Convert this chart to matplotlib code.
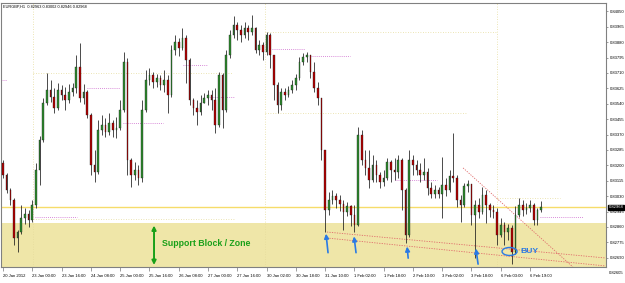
import numpy as np
import matplotlib.pyplot as plt
import matplotlib.transforms as mtransforms
from matplotlib.collections import LineCollection
from matplotlib.patches import Ellipse

plt.rcParams['font.family'] = ['Liberation Sans', 'DejaVu Sans']

# EURGBP H1, prices stored as 1e-5 above 0.82000
first_open = 1213
close = [1147, 1064, 1009, 799, 832, 910, 932, 899, 981, 1175,
         1340, 1544, 1616, 1578, 1517, 1616, 1589, 1561, 1605, 1627,
         1743, 1572, 1605, 1478, 1202, 1164, 1395, 1423, 1384, 1434,
         1395, 1406, 1506, 1771, 1230, 1147, 1175, 1130, 1506, 1671,
         1699, 1660, 1682, 1644, 1671, 1589, 1837, 1881, 1848, 1903,
         1782, 1561, 1517, 1495, 1544, 1572, 1589, 1561, 1423, 1699,
         1506, 1809, 1920, 1975, 1947, 1920, 1958, 1936, 1958, 1837,
         1865, 1826, 1920, 1809, 1644, 1533, 1605, 1589, 1616, 1644,
         1682, 1771, 1798, 1809, 1716, 1627, 1572, 1285, 954, 1009,
         1031, 1009, 987, 943, 976, 926, 871, 1368, 1230, 1186,
         1119, 1202, 1147, 1108, 1130, 1219, 1175, 1164, 1230, 1064,
         816, 1230, 1202, 1175, 1147, 1164, 1075, 1042, 1064, 1042,
         1092, 1064, 1141, 1130, 1009, 981, 1086, 1097, 926, 981,
         943, 1037, 981, 954, 943, 816, 871, 832, 854, 722,
         926, 981, 954, 965, 981, 899, 954, 968]
high = [1230, 1158, 1075, 1020, 843, 981, 965, 954, 1009, 1213,
        1362, 1572, 1710, 1671, 1627, 1655, 1644, 1633, 1649, 1655,
        1809, 1876, 1649, 1616, 1489, 1285, 1451, 1478, 1462, 1489,
        1451, 1467, 1561, 1826, 1793, 1241, 1219, 1202, 1561, 1727,
        1738, 1716, 1704, 1699, 1727, 1699, 1865, 1920, 1903, 1958,
        1920, 1793, 1572, 1561, 1589, 1600, 1616, 1616, 1627, 1716,
        1710, 1837, 1947, 2025, 1992, 1975, 1992, 1975, 2030, 1964,
        1892, 1881, 1936, 1931, 1809, 1660, 1627, 1627, 1638, 1671,
        1704, 1798, 1820, 1826, 1809, 1771, 1660, 1561, 1285, 1053,
        1064, 1048, 1037, 1009, 998, 981, 981, 1412, 1395, 1285,
        1285, 1257, 1230, 1164, 1175, 1241, 1230, 1241, 1257, 1241,
        1075, 1285, 1257, 1230, 1213, 1241, 1186, 1108, 1092, 1081,
        1246, 1130, 1175, 1379, 1147, 1037, 1103, 1119, 1097, 1009,
        1020, 1081, 1064, 992, 981, 965, 910, 888, 876, 871,
        976, 1020, 1009, 992, 1009, 992, 965, 1003]
low = [1130, 1048, 981, 761, 722, 821, 876, 860, 888, 965,
       1092, 1329, 1533, 1550, 1489, 1506, 1561, 1506, 1544, 1583,
       1600, 1550, 1539, 1462, 1147, 1108, 1152, 1368, 1357, 1368,
       1357, 1351, 1395, 1495, 1147, 1081, 1119, 1092, 1108, 1495,
       1644, 1627, 1633, 1616, 1605, 1489, 1578, 1809, 1804, 1837,
       1655, 1533, 1478, 1423, 1478, 1544, 1533, 1506, 1379, 1412,
       1406, 1495, 1793, 1903, 1892, 1881, 1903, 1892, 1920, 1820,
       1809, 1782, 1809, 1738, 1561, 1489, 1506, 1561, 1578, 1600,
       1616, 1671, 1754, 1771, 1682, 1605, 1533, 1230, 832, 926,
       987, 965, 948, 843, 921, 865, 832, 865, 1202, 1147,
       1075, 1108, 1108, 1075, 1086, 1119, 1108, 1119, 1130, 954,
       772, 805, 1147, 1147, 1108, 1119, 1037, 1020, 1020, 1020,
       910, 1031, 1053, 1108, 970, 888, 970, 1053, 871, 689,
       910, 932, 882, 915, 910, 761, 805, 761, 788, 656,
       711, 915, 921, 932, 943, 871, 871, 943]

time_labels = ['20 Jan 2012', '23 Jan 00:00', '23 Jan 16:00', '24 Jan 08:00',
               '25 Jan 00:00', '25 Jan 16:00', '26 Jan 08:00', '27 Jan 00:00',
               '27 Jan 16:00', '30 Jan 02:00', '30 Jan 18:00', '31 Jan 10:00',
               '1 Feb 02:00', '1 Feb 18:00', '2 Feb 10:00', '3 Feb 02:00',
               '3 Feb 18:00', '6 Feb 03:00', '6 Feb 19:00']
price_labels = ['0.84050', '0.83965', '0.83880', '0.83795', '0.83710', '0.83625',
                '0.83540', '0.83455', '0.83370', '0.83285', '0.83200', '0.83115',
                '0.83030', '0.82945', '0.82860', '0.82775', '0.82690', '0.82605']
bid = 0.82968
zone_top = 0.82882

# (price, start bar, end bar)
week_levels = [(0.83710, 8.2, 62.9), (0.82904, 8.2, 63.4), (0.83936, 71.6, 135),
               (0.83489, 71.6, 126.8), (0.83020, 135, 152.2)]
day_levels = [(0.83671, -0.5, 1.1), (0.82915, 8.7, 20.2), (0.83627, 23, 32),
              (0.83434, 32.8, 43.7), (0.83754, 49.2, 55.7), (0.83578, 56.6, 63.4),
              (0.83843, 73.5, 82.5), (0.83804, 83.9, 94.8), (0.82970, 96.2, 106.3),
              (0.83119, 107, 118.6), (0.82915, 146.7, 158.5)]
week_starts = [8.2, 71.6, 135]
trend_lines = [((88.5, 0.82832), (164.5, 0.82689)),
               ((88.5, 0.82799), (164.5, 0.82645)),
               ((125.7, 0.83186), (155.7, 0.82639))]
buy_arrows = [((88.8, 0.82718), (88.25, 0.82823)),
              ((96.45, 0.82718), (95.9, 0.82808)),
              ((110.7, 0.82688), (110.4, 0.82752)),
              ((129.8, 0.82655), (129.2, 0.82741))]

c = 0.82 + np.array(close) / 1e5
h = 0.82 + np.array(high) / 1e5
l = 0.82 + np.array(low) / 1e5
o = np.r_[0.82 + first_open / 1e5, c[:-1]]
x = np.arange(len(c))

fig = plt.figure(figsize=(6.25, 2.83), dpi=100)
ax = fig.add_axes([1 / 625, 16 / 283, 605 / 625, 264.5 / 283])
ax.set_xlim(-0.55, 164.75)
ax.set_ylim(0.82639, 0.84099)

ax.axhspan(0.82, zone_top, color='#efe6a8', lw=0, zorder=0)
for wx in week_starts:
    ax.axvline(wx, color='#e6dc9c', lw=0.6, ls=(0, (1, 2)), zorder=1)
for p, a, b in week_levels:
    ax.plot([a, b], [p, p], color='#e6dc9c', lw=0.6, ls=(0, (1, 2)), zorder=1)
for p, a, b in day_levels:
    ax.plot([a, b], [p, p], color='#cc66cc', lw=0.6, ls=(0, (1, 1.5)), zorder=1)
ax.axhline(bid, color='#f6dc6a', lw=1.0, zorder=1)
for (x0, y0), (x1, y1) in trend_lines:
    ax.plot([x0, x1], [y0, y1], color='#e06a6a', lw=0.6, ls=(0, (1.5, 1.5)), zorder=2)

# candles
wicks = [[(xi, li), (xi, hi)] for xi, li, hi in zip(x, l, h)]
ax.add_collection(LineCollection(wicks, colors='#1a1a1a', linewidths=0.55, zorder=3))
up = c >= o
body = np.where(np.abs(c - o) < 2e-5, 2e-5, c - o)
ax.bar(x, body, bottom=o, width=0.45, color=np.where(up, '#2e8b2e', '#b30000'),
       edgecolor='#1a1a1a', linewidth=0.25, zorder=4)

# annotations
ax.annotate('', xy=(41.26, 0.82868), xytext=(41.26, 0.82650),
            arrowprops=dict(arrowstyle='<|-|>', color='#19a019', lw=1.4,
                            mutation_scale=6, shrinkA=0, shrinkB=0), zorder=5)
ax.text(43.4, 0.82766, 'Support Block / Zone', color='#19a019', fontsize=6.3,
        fontweight='bold', va='center', ha='left', zorder=5)
for tail, tip in buy_arrows:
    ax.annotate('', xy=tip, xytext=tail,
                arrowprops=dict(arrowstyle='-|>', color='#2a7ae4', lw=1.2,
                                mutation_scale=6.5, shrinkA=0, shrinkB=0), zorder=5)
ax.add_patch(Ellipse((138.4, 0.827247), 4.1, 0.00044, fill=False,
                     edgecolor='#2a7ae4', lw=1.0, zorder=5))
ax.text(141.3, 0.82722, 'BUY', color='#2a7ae4', fontsize=6.1, fontweight='bold',
        va='center', ha='left', zorder=5)
ax.text(0.004, 0.992, 'EURGBP,H1  0.82963 0.83002 0.82946 0.82968',
        transform=ax.transAxes, fontsize=2.8, va='top', ha='left')

# axes
for s in ax.spines.values():
    s.set_color('#808080')
    s.set_linewidth(0.8)
ax.set_xticks(np.arange(len(time_labels)) * 8)
ax.set_xticklabels(time_labels, ha='left', fontsize=3)
ax.tick_params(axis='x', length=3, width=0.4, color='#555555', pad=2.2)

inside = [t for t in price_labels if float(t) >= 0.82639]
ax.yaxis.tick_right()
ax.set_yticks([float(t) for t in inside])
ax.set_yticklabels(inside, fontsize=3)
ax.tick_params(axis='y', length=1.5, width=0.4, color='#555555', pad=1)
trans = mtransforms.blended_transform_factory(ax.transAxes, ax.transData)
ax.text(1.0045, 0.82605, price_labels[-1], transform=trans, fontsize=3,
        va='center', ha='left', clip_on=False)
ax.text(1.0045, bid, '0.82968', transform=trans, fontsize=3, color='white',
        va='center', ha='left', clip_on=False,
        bbox=dict(boxstyle='square,pad=0.2', fc='black', ec='black'))

fig.savefig('out.png', dpi=100, facecolor='white')
